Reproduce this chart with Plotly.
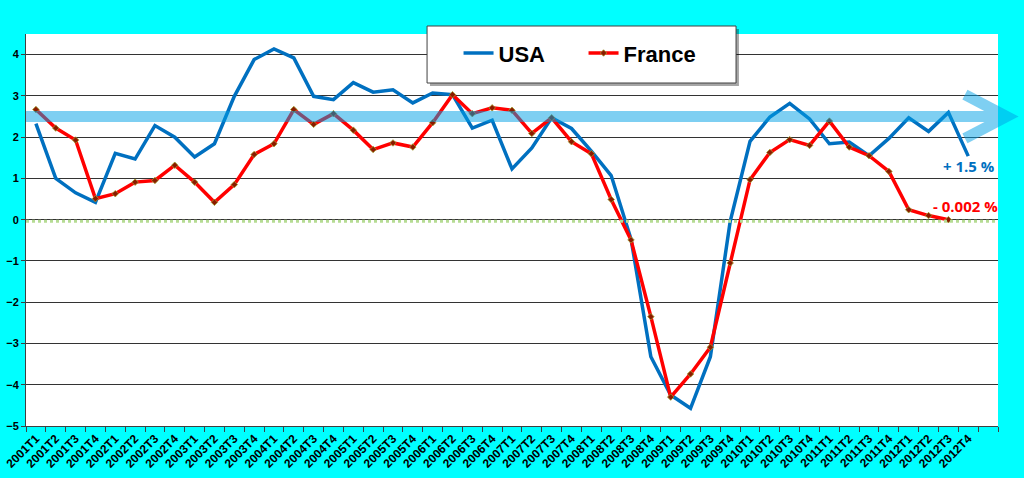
import plotly.graph_objects as go

# quarters shown on the category axis (one blank slot is kept at the end)
quarters = [
    "2001T1", "2001T2", "2001T3", "2001T4", "2002T1", "2002T2", "2002T3", "2002T4",
    "2003T1", "2003T2", "2003T3", "2003T4", "2004T1", "2004T2", "2004T3", "2004T4",
    "2005T1", "2005T2", "2005T3", "2005T4", "2006T1", "2006T2", "2006T3", "2006T4",
    "2007T1", "2007T2", "2007T3", "2007T4", "2008T1", "2008T2", "2008T3", "2008T4",
    "2009T1", "2009T2", "2009T3", "2009T4", "2010T1", "2010T2", "2010T3", "2010T4",
    "2011T1", "2011T2", "2011T3", "2011T4", "2012T1", "2012T2", "2012T3", "2012T4",
]

# year-on-year growth, %
usa = [
    2.33, 1.00, 0.65, 0.42, 1.61, 1.47, 2.28, 2.00,
    1.52, 1.84, 2.99, 3.88, 4.14, 3.92, 2.99, 2.91,
    3.32, 3.09, 3.15, 2.83, 3.07, 3.03, 2.22, 2.41,
    1.23, 1.74, 2.47, 2.21, 1.66, 1.07, -0.47, -3.32,
    -4.25, -4.57, -3.32, -0.04, 1.90, 2.49, 2.82, 2.44,
    1.84, 1.88, 1.55, 1.97, 2.47, 2.14, 2.60, 1.54,
]

france = [
    2.67, 2.22, 1.93, 0.51, 0.63, 0.91, 0.95, 1.32,
    0.91, 0.42, 0.85, 1.58, 1.84, 2.67, 2.31, 2.57,
    2.17, 1.70, 1.86, 1.76, 2.35, 3.03, 2.57, 2.71,
    2.65, 2.09, 2.47, 1.89, 1.60, 0.49, -0.49, -2.35,
    -4.30, -3.74, -3.09, -1.05, 0.97, 1.63, 1.94, 1.80,
    2.39, 1.76, 1.55, 1.17, 0.24, 0.10, 0.00, None,
]

usa_label = "+ 1.5 %"
france_label = "- 0.002 %"

BLUE = "#0070c0"
RED = "#ff0000"
AXIS_FONT = dict(family="Liberation Sans, Arial", size=11, color="black", weight="bold")

fig = go.Figure()
fig.add_trace(go.Scatter(
    x=quarters, y=usa, name="USA", mode="lines",
    line=dict(color=BLUE, width=3.5),
))
fig.add_trace(go.Scatter(
    x=quarters, y=france, name="France", mode="lines+markers",
    line=dict(color=RED, width=3.5),
    marker=dict(symbol="diamond", size=5, color="#8b1a00",
                line=dict(color="#a0a030", width=0.8)),
))

# zero reference line (green dotted) and the big trend arrow
fig.add_shape(type="line", xref="paper", yref="y", x0=0, x1=1, y0=-0.04, y1=-0.04,
              line=dict(color="#b6dc94", width=3, dash="dot"), layer="above")
fig.add_shape(type="path", xref="paper", yref="y",
              path="M 0,2.5 L 1.0,2.5 M 0.966,3.03 L 1.009,2.5 L 0.966,1.97",
              line=dict(color="rgb(0,160,230)", width=11), opacity=0.5, layer="above")

# legend box with a drop shadow
fig.add_shape(type="rect", xref="paper", yref="paper",
              x0=0.4156, x1=0.7335, y0=0.8673, y1=1.0127,
              fillcolor="rgba(0,0,0,0.35)", line=dict(width=0), layer="above")
fig.add_shape(type="rect", xref="paper", yref="paper",
              x0=0.4126, x1=0.7305, y0=0.875, y1=1.0204,
              fillcolor="white", line=dict(color="#404040", width=1), layer="above")

fig.add_annotation(text=usa_label, xref="paper", yref="y", x=0.999, y=1.31,
                   xanchor="right", yanchor="middle", showarrow=False,
                   font=dict(family="Open Sans", size=15, color=BLUE, weight="bold"))
fig.add_annotation(text=france_label, xref="paper", yref="y", x=1.002, y=0.34,
                   xanchor="right", yanchor="middle", showarrow=False,
                   font=dict(family="Open Sans", size=15, color=RED, weight="bold"))

fig.update_layout(
    width=1024, height=478,
    margin=dict(l=26, r=26, t=34, b=52),
    paper_bgcolor="#00ffff",
    plot_bgcolor="white",
    showlegend=True,
    legend=dict(
        orientation="h", x=0.445, y=0.951, xanchor="left", yanchor="middle",
        bgcolor="rgba(0,0,0,0)", borderwidth=0, entrywidth=80,
        font=dict(family="Liberation Sans, Arial", size=22, color="black", weight="bold"),
    ),
    xaxis=dict(
        type="category", categoryorder="array", categoryarray=quarters + [" "],
        range=[-0.5, 48.5], tickson="boundaries", ticks="outside", ticklen=5,
        tickcolor="#404040", tickangle=-45, tickfont=dict(AXIS_FONT, size=12),
        showline=True, linecolor="#404040", linewidth=1, showgrid=False,
        fixedrange=True, automargin=False,
    ),
    yaxis=dict(
        range=[-5, 4.5], dtick=1, tick0=0, ticks="outside", ticklen=4,
        tickcolor="#404040", tickfont=AXIS_FONT, showline=True,
        linecolor="#404040", linewidth=1, showgrid=True, gridcolor="#333333",
        gridwidth=1, zeroline=False, fixedrange=True, automargin=False,
    ),
)

fig.write_html(
    "out.html",
    config={"displayModeBar": False},
    post_script="document.body.style.margin='0';document.body.style.overflow='hidden';",
)
